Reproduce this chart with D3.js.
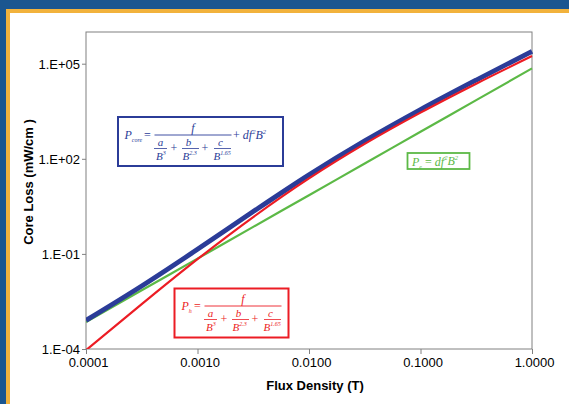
<!DOCTYPE html>
<html>
<head>
<meta charset="utf-8">
<script src="https://cdn.jsdelivr.net/npm/d3@7"></script>
<style>
  html, body { margin: 0; padding: 0; background: #1b5690; }
  svg { display: block; }
  text { font-family: Arial, "Liberation Sans", sans-serif; }
  .eq { font-family: "Times New Roman", "Liberation Serif", serif; font-style: italic; }
</style>
</head>
<body>
<svg id="chart" width="569" height="404"></svg>
<script>
// ---- data ----
const fluxDensity    = [0.0001, 0.000316, 0.001, 0.00316, 0.01, 0.0316, 0.1, 0.316, 1];
const coreLoss       = [8.0e-4, 9.7e-3, 0.139, 2.16, 31.1, 366, 3570, 30500, 245000];
const hysteresisLoss = [9.2e-5, 2.6e-3, 0.068, 1.45, 24, 295, 2860, 23400, 174000];
const eddyLoss       = [7.1e-4, 7.1e-3, 0.071, 0.71, 7.1, 71, 710, 7100, 71000];

const xTickValues = [0.0001, 0.001, 0.01, 0.1, 1];
const xTickLabels = ["0.0001", "0.0010", "0.0100", "0.1000", "1.0000"];
const yTickValues = [1e-4, 1e-1, 1e2, 1e5];
const yTickLabels = ["1.E-04", "1.E-01", "1.E+02", "1.E+05"];

const xTitle = "Flux Density (T)";
const yTitle = "Core Loss (mW/cm )";

// ---- colours ----
const BLUE = "#2b3c98", RED = "#ec1c24", GREEN = "#5cb946";

const svg = d3.select("#chart");

// frame
svg.append("rect").attr("x", 0).attr("y", 0).attr("width", 569).attr("height", 404).attr("fill", "#1b5690");
svg.append("rect").attr("x", 6).attr("y", 9).attr("width", 563).attr("height", 395).attr("fill", "#f2b23c");
svg.append("rect").attr("x", 10).attr("y", 13).attr("width", 559).attr("height", 391).attr("fill", "#ffffff");

const plot = { left: 86, right: 532, top: 32, bottom: 349 };

const x = d3.scaleLog().domain([1e-4, 1]).range([plot.left, plot.right]);
const y = d3.scaleLog().domain([1e-4, 1e6]).range([plot.bottom, plot.top]);

// axes
const xAxis = svg.append("g")
  .attr("transform", `translate(0,${plot.bottom})`)
  .call(d3.axisBottom(x).tickValues(xTickValues).tickFormat((d, i) => xTickLabels[i]).tickSize(5).tickPadding(4));
const yAxis = svg.append("g")
  .attr("transform", `translate(${plot.left},0)`)
  .call(d3.axisLeft(y).tickValues(yTickValues).tickFormat((d, i) => yTickLabels[i]).tickSize(4).tickPadding(2));
[xAxis, yAxis].forEach(a => {
  a.select(".domain").remove();
  a.selectAll(".tick line").attr("stroke", "#808080");
  a.selectAll(".tick text").attr("font-size", 13).attr("fill", "#000")
    .attr("font-family", "Arial, 'Liberation Sans', sans-serif");
});
xAxis.selectAll(".tick text").attr("dx", 2);
yAxis.selectAll(".tick text").attr("dy", "0.36em");

// plot frame
svg.append("rect")
  .attr("x", plot.left).attr("y", plot.top)
  .attr("width", plot.right - plot.left).attr("height", plot.bottom - plot.top)
  .attr("fill", "none").attr("stroke", "#808080").attr("stroke-width", 1);

// titles
svg.append("text").attr("x", 315).attr("y", 390).attr("text-anchor", "middle")
  .attr("font-size", 13).attr("font-weight", "bold").text(xTitle);
svg.append("text").attr("transform", "translate(33,182) rotate(-90)").attr("text-anchor", "middle")
  .attr("font-size", 13).attr("font-weight", "bold").text(yTitle);

// curves
svg.append("clipPath").attr("id", "clip").append("rect")
  .attr("x", plot.left).attr("y", plot.top - 4).attr("width", plot.right - plot.left + 3).attr("height", plot.bottom - plot.top + 4);

const line = vals => d3.line()
  .x((d, i) => x(fluxDensity[i]))
  .y(d => y(d))
  .curve(d3.curveMonotoneX)(vals);

const curves = svg.append("g").attr("clip-path", "url(#clip)");
curves.append("path").attr("d", line(eddyLoss)).attr("fill", "none").attr("stroke", GREEN).attr("stroke-width", 2.2);
curves.append("path").attr("d", line(coreLoss)).attr("fill", "none").attr("stroke", BLUE).attr("stroke-width", 4.8);
curves.append("path").attr("d", line(hysteresisLoss)).attr("fill", "none").attr("stroke", RED).attr("stroke-width", 2.2);

// ---- equation boxes ----
const boxG = svg.append("g");
const eqG = svg.append("g");
function box(x0, y0, w, h, color, sw) {
  boxG.append("rect").attr("x", x0).attr("y", y0).attr("width", w).attr("height", h)
    .attr("fill", "#fff").attr("stroke", color).attr("stroke-width", sw);
}
function eqText(g, tx, ty, parts, color, size, anchor) {
  const t = g.append("text").attr("class", "eq").attr("x", tx).attr("y", ty)
    .attr("fill", color).attr("font-size", size).attr("text-anchor", anchor || "start");
  parts.forEach(p => {
    const s = t.append("tspan").text(p.t);
    if (p.sup) s.attr("font-size", size * 0.55).attr("dy", -size * 0.42);
    if (p.sub) s.attr("font-size", size * 0.5).attr("dy", size * 0.25);
    if (p.back) s.attr("dy", p.back).attr("font-size", size);
    if (p.normal) s.style("font-style", "normal");
  });
  return t;
}
function fraction(g, x0, y0, w, color, pSub, pOff) {
  eqText(g, x0 - pOff, y0 + 4, [{ t: "P" }, { t: pSub, sub: true }], color, 12);
  eqText(g, x0 - 10.5, y0 + 4, [{ t: "=", normal: true }], color, 12);
  g.append("line").attr("x1", x0).attr("x2", x0 + w).attr("y1", y0).attr("y2", y0)
    .attr("stroke", color).attr("stroke-width", 0.9);
  eqText(g, x0 + w / 2, y0 - 3.5, [{ t: "f" }], color, 12, "middle");
  const terms = [["a", "3", 6, 4.5], ["b", "2.3", 34, 6], ["c", "1.65", 66, 7]];
  terms.forEach(([l, e, cx, bOff]) => {
    eqText(g, x0 + cx, y0 + 11, [{ t: l }], color, 11, "middle");
    g.append("line").attr("x1", x0 + cx - 6.5).attr("x2", x0 + cx + 6.5 + (e.length > 1 ? 4 : 0))
      .attr("y1", y0 + 13.5).attr("y2", y0 + 13.5).attr("stroke", color).attr("stroke-width", 0.8);
    eqText(g, x0 + cx - bOff, y0 + 25, [{ t: "B" }, { t: e, sup: true }], color, 11);
  });
  eqText(g, x0 + 19.5, y0 + 17, [{ t: "+", normal: true }], color, 12, "middle");
  eqText(g, x0 + 50.5, y0 + 17, [{ t: "+", normal: true }], color, 12, "middle");
}

// P_core box
box(118, 117, 165, 49, BLUE, 2);
fraction(eqG, 154.5, 135, 77, BLUE, "core", 30);
eqText(eqG, 233, 139, [{ t: "+ ", normal: true }, { t: "df" }, { t: "2", sup: true }, { t: "B", back: 5 }, { t: "2", sup: true }], BLUE, 12);

// P_h box
box(174.5, 288.5, 114, 49, RED, 2);
fraction(eqG, 204.5, 306, 77, RED, "h", 23);

// P_e box
box(407.5, 153, 62, 16, GREEN, 1.8);
eqText(eqG, 412, 165.5, [{ t: "P" }, { t: "e", sub: true }, { t: " = ", back: -3, normal: true }, { t: "df" }, { t: "2", sup: true }, { t: "B", back: 5 }, { t: "2", sup: true }], GREEN, 12);
</script>
</body>
</html>
